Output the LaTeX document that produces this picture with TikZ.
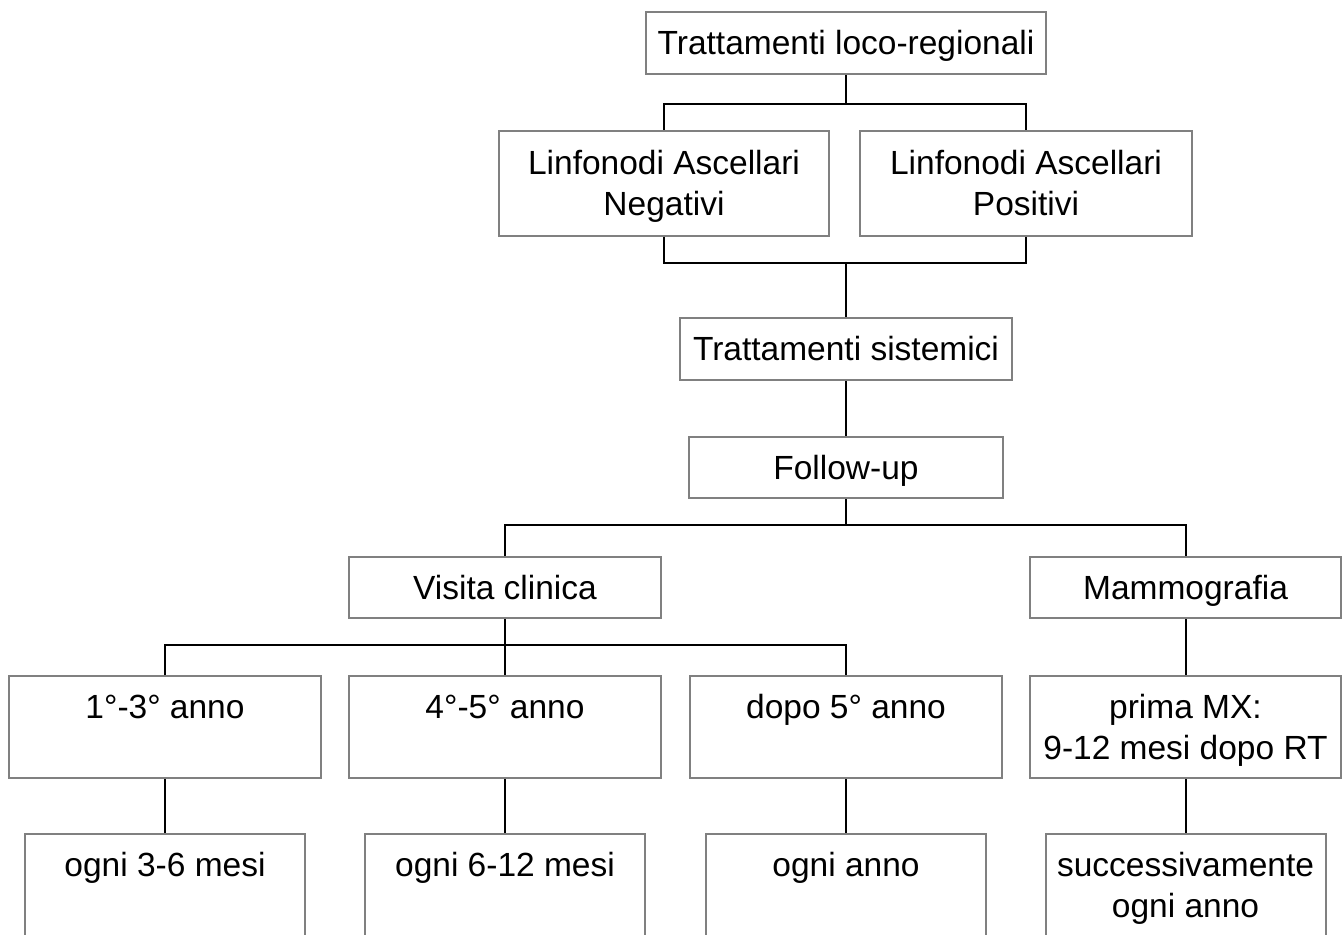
\documentclass[tikz,border=0pt]{standalone}
\usepackage{fontspec}
\setmainfont{Liberation Sans}
\usepackage{tikz}
\usetikzlibrary{calc}
\definecolor{boxgray}{RGB}{128,128,128}
\newcommand{\firststrut}{\rule{0pt}{17.9pt}} % lowers the text a little in its box

\begin{document}
\begin{tikzpicture}[x=0.5pt, y=-0.5pt,
    box/.style={draw=boxgray, line width=1pt, inner sep=0pt, align=center,
        font=\fontsize{16.75}{20.5}\selectfont},
    link/.style={line width=1pt, black}]
    \useasboundingbox (0,0) rectangle (1342,934);
    \clip (0,0) rectangle (1342,934);

    % upper chain
    \node (loco) at (846,43) [box, minimum width=200pt, minimum height=31pt] {\firststrut\strut Trattamenti loco-regionali};
    \node (neg) at (664,183) [box, minimum width=165pt, minimum height=52.5pt] {\firststrut\strut Linfonodi Ascellari\\\strut Negativi};
    \node (pos) at (1026,183) [box, minimum width=166pt, minimum height=52.5pt] {\firststrut\strut Linfonodi Ascellari\\\strut Positivi};
    \node (sist) at (846,349) [box, minimum width=166pt, minimum height=31pt] {\firststrut\strut Trattamenti sistemici};
    \node (follow) at (846,467.5) [box, minimum width=157pt, minimum height=30.5pt] {\firststrut\strut Follow-up};

    % follow-up branches
    \node (visita) at (505,587.5) [box, minimum width=156pt, minimum height=30.5pt] {\firststrut\strut Visita clinica};
    \node (mammo) at (1185.5,587.5) [box, minimum width=155.5pt, minimum height=30.5pt] {\firststrut\strut Mammografia};

    \node (anno13) at (165,727) [box, minimum width=156pt, minimum height=51pt] {\firststrut\strut 1°-3° anno\\\strut};
    \node (anno45) at (505,727) [box, minimum width=156pt, minimum height=51pt] {\firststrut\strut 4°-5° anno\\\strut};
    \node (dopo5) at (846,727) [box, minimum width=156pt, minimum height=51pt] {\firststrut\strut dopo 5° anno\\\strut};
    \node (prima) at (1185.5,727) [box, minimum width=155.5pt, minimum height=51pt] {\firststrut\strut prima MX:\\\strut 9-12 mesi dopo RT};

    \node (ogni36) at (165,885) [box, minimum width=140pt, minimum height=51pt] {\firststrut\strut ogni 3-6 mesi\\\strut};
    \node (ogni612) at (505,885) [box, minimum width=140pt, minimum height=51pt] {\firststrut\strut ogni 6-12 mesi\\\strut};
    \node (ogniann) at (846,885) [box, minimum width=140pt, minimum height=51pt] {\firststrut\strut ogni anno\\\strut};
    \node (succ) at (1185.5,885) [box, minimum width=140pt, minimum height=51pt] {\firststrut\strut successivamente\\\strut ogni anno};

    % connectors
    \coordinate (j1) at (846,104);
    \coordinate (j2) at (846,263);
    \coordinate (j3) at (846,525);
    \coordinate (j4) at (505,645);

    \draw [link] (loco.south) -- (j1);
    \draw [link] (neg.north) |- (j1) -| (pos.north);
    \draw [link] (neg.south) |- (j2) -| (pos.south);
    \draw [link] (j2) -- (sist.north);
    \draw [link] (sist.south) -- (follow.north);
    \draw [link] (follow.south) -- (j3);
    \draw [link] (visita.north) |- (j3) -| (mammo.north);
    \draw [link] (visita.south) -- (j4);
    \draw [link] (anno13.north) |- (j4) -| (dopo5.north);
    \draw [link] (j4) -- (anno45.north);
    \draw [link] (mammo.south) -- (prima.north);

    \draw [link] (anno13.south) -- (ogni36.north);
    \draw [link] (anno45.south) -- (ogni612.north);
    \draw [link] (dopo5.south) -- (ogniann.north);
    \draw [link] (prima.south) -- (succ.north);
\end{tikzpicture}
\end{document}
